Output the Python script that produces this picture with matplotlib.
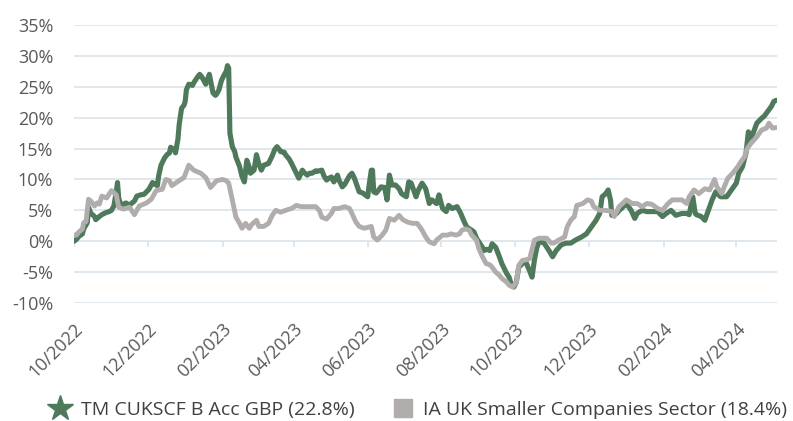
import numpy as np
import pandas as pd
import matplotlib
matplotlib.use("Agg")
import matplotlib.pyplot as plt
from matplotlib.lines import Line2D

plt.rcParams['font.family'] = ['Open Sans', 'DejaVu Sans']

start = pd.Timestamp("2022-10-01")

# cumulative performance (%); days counted from start
fund_days = [0, 2, 4, 7, 8, 11, 12, 14, 17, 18, 21, 23, 26, 29, 31, 33, 35, 36, 37, 39,
             41, 43, 46, 48, 50, 52, 55, 58, 60, 62, 65, 67, 69, 70, 72, 75, 77, 79, 80, 83,
             84, 86, 87, 89, 91, 92, 93, 95, 98, 99, 102, 104, 106, 108, 109, 111, 112, 114, 115, 117,
             118, 120, 122, 124, 126, 127, 128, 129, 131, 133, 134, 137, 139, 141, 143, 145, 146, 149, 151, 153,
             155, 157, 160, 161, 164, 166, 168, 170, 171, 174, 175, 178, 180, 182, 184, 186, 189, 190, 193, 195,
             197, 200, 201, 205, 207, 209, 211, 213, 215, 218, 219, 222, 224, 226, 228, 230, 232, 234, 236, 239,
             241, 243, 244, 246, 247, 248, 250, 253, 254, 257, 259, 261, 263, 266, 269, 271, 275, 277, 279, 283,
             285, 288, 291, 294, 296, 300, 302, 305, 308, 310, 313, 317, 320, 323, 325, 329, 331, 333, 335, 338,
             339, 342, 344, 346, 349, 352, 354, 358, 360, 362, 364, 366, 368, 371, 374, 377, 379, 381, 383, 385,
             389, 393, 396, 399, 403, 407, 411, 415, 420, 424, 428, 432, 435, 437, 440, 442, 444, 445, 449, 451,
             453, 457, 461, 464, 466, 470, 474, 479, 483, 487, 490, 494, 498, 503, 507, 509, 512, 514, 515, 519,
             522, 524, 528, 531, 535, 540, 544, 548, 550, 553, 556, 558, 560, 562, 565, 569, 571, 574, 577, 579,
             581]
fund_vals = [0.0, 0.3, 0.8, 1.2, 2.0, 3.0, 5.5, 4.5, 4.0, 3.5, 4.0, 4.3, 4.6, 4.8, 5.0, 5.7, 8.0, 9.5, 7.0, 5.7,
             6.0, 6.2, 5.8, 6.2, 6.5, 7.3, 7.5, 7.6, 8.0, 8.4, 9.5, 9.2, 9.0, 10.5, 12.3, 13.5, 14.0, 14.3, 15.2, 14.8,
             14.3, 16.5, 18.8, 21.5, 22.0, 22.6, 24.5, 25.4, 25.2, 25.6, 26.5, 27.0, 26.5, 25.8, 25.4, 26.5, 27.0, 25.0, 24.0, 23.6,
             23.8, 24.5, 26.0, 26.8, 27.5, 28.4, 28.0, 17.5, 15.3, 14.5, 13.6, 12.1, 10.5, 9.6, 13.1, 12.0, 11.0, 11.5, 14.0, 12.5,
             11.5, 12.3, 12.5, 12.6, 13.8, 14.8, 15.3, 14.8, 14.5, 14.4, 14.0, 13.3, 12.6, 11.8, 11.0, 10.2, 11.5, 11.2, 10.7, 11.0,
             11.0, 11.4, 11.3, 11.5, 10.5, 9.9, 10.2, 10.4, 9.6, 10.7, 10.0, 8.8, 9.2, 9.9, 10.6, 11.0, 10.2, 9.1, 8.0, 7.8,
             7.5, 7.2, 8.8, 11.5, 11.5, 8.0, 7.8, 8.5, 8.8, 8.7, 6.7, 10.7, 9.1, 9.1, 8.5, 7.7, 7.2, 9.6, 9.4, 7.2,
             8.3, 9.4, 8.5, 6.1, 6.7, 6.1, 7.5, 5.3, 4.8, 5.8, 5.3, 5.6, 4.5, 3.1, 2.3, 1.8, 1.5, 0.5, -0.1, -1.0,
             -1.5, -1.3, -1.5, -0.4, -1.0, -2.5, -3.6, -5.2, -5.8, -7.1, -7.4, -6.6, -4.2, -3.6, -3.4, -4.8, -5.8, -3.0, -1.0, 0.0,
             -0.3, -1.5, -2.5, -1.5, -0.6, -0.3, -0.3, 0.2, 0.7, 1.2, 2.3, 3.4, 4.5, 7.2, 7.7, 8.3, 6.6, 4.2, 4.5, 5.0,
             5.3, 6.1, 5.0, 3.7, 4.5, 5.0, 4.8, 4.8, 4.8, 4.0, 4.5, 5.0, 4.2, 4.5, 4.5, 4.3, 7.2, 4.5, 4.3, 4.0,
             3.4, 4.5, 6.7, 8.0, 7.2, 7.2, 8.3, 9.4, 11.0, 12.0, 14.2, 17.7, 16.7, 17.5, 19.1, 19.9, 20.2, 21.0, 21.8, 22.6,
             22.8]

sector_days = [0, 2, 4, 7, 8, 10, 11, 12, 14, 17, 19, 21, 23, 27, 31, 35, 37, 41, 46, 50,
               54, 60, 64, 68, 73, 76, 79, 81, 87, 91, 95, 99, 105, 109, 113, 118, 123, 126, 128, 131,
               134, 137, 139, 142, 145, 147, 151, 153, 157, 161, 164, 167, 171, 175, 180, 184, 188, 192, 196, 200,
               203, 205, 209, 213, 215, 219, 224, 228, 230, 233, 236, 240, 246, 248, 251, 255, 258, 261, 265, 269,
               272, 276, 280, 284, 288, 291, 294, 298, 300, 305, 309, 312, 316, 319, 321, 324, 327, 329, 333, 335,
               338, 341, 344, 346, 349, 352, 354, 358, 360, 363, 366, 368, 371, 374, 377, 381, 385, 391, 395, 397,
               401, 406, 408, 411, 414, 416, 421, 425, 428, 430, 435, 440, 445, 447, 451, 457, 462, 466, 470, 474,
               478, 483, 487, 491, 495, 499, 503, 507, 509, 513, 517, 522, 526, 530, 532, 536, 538, 541, 545, 549,
               552, 555, 557, 560, 565, 569, 573, 575, 578, 581]
sector_vals = [1.0, 1.0, 1.5, 2.0, 3.0, 3.2, 5.0, 6.8, 6.5, 5.7, 6.2, 6.0, 7.3, 7.0, 8.2, 7.5, 5.5, 5.2, 5.5, 4.3,
               5.7, 6.2, 6.8, 8.2, 8.4, 10.0, 9.8, 9.0, 9.8, 10.3, 12.3, 11.5, 11.0, 10.3, 8.7, 9.8, 10.0, 9.8, 9.4, 6.7,
               3.9, 2.9, 2.1, 2.9, 2.1, 2.7, 3.4, 2.4, 2.4, 2.9, 4.2, 5.0, 4.7, 5.0, 5.3, 5.8, 5.6, 5.6, 5.6, 5.6,
               5.0, 3.9, 3.6, 4.5, 5.3, 5.3, 5.6, 5.3, 4.5, 3.2, 2.4, 2.1, 2.4, 0.7, 0.2, 1.0, 1.8, 3.7, 3.4, 4.2,
               3.5, 3.1, 2.9, 2.9, 1.8, 0.7, -0.1, -0.4, 0.2, 1.0, 1.0, 1.2, 1.0, 1.2, 1.8, 2.0, 1.8, 1.0, 0.2, -1.2,
               -2.5, -3.6, -3.8, -4.2, -5.0, -5.5, -6.0, -6.6, -7.1, -7.4, -6.6, -3.9, -3.1, -3.0, -2.8, 0.2, 0.5, 0.5, -0.3, -0.3,
               0.2, 0.7, 2.3, 3.4, 4.0, 5.8, 6.1, 6.7, 6.5, 5.6, 5.0, 5.0, 4.8, 4.0, 5.6, 6.7, 6.1, 6.1, 5.6, 6.1,
               6.0, 5.3, 5.0, 6.0, 6.7, 6.7, 6.7, 6.1, 7.2, 8.3, 7.7, 8.5, 8.3, 10.0, 8.8, 7.7, 8.8, 10.2, 11.0, 12.0,
               12.9, 13.7, 15.0, 15.8, 16.9, 18.0, 18.3, 19.1, 18.3, 18.4]

fund_label = "TM CUKSCF B Acc GBP (22.8%)"
sector_label = "IA UK Smaller Companies Sector (18.4%)"
y_ticks = [-10, -5, 0, 5, 10, 15, 20, 25, 30, 35]
x_ticks = pd.date_range("2022-10-01", "2024-04-01", freq="2MS")

green = "#4e7a5b"
grey = "#b2adad"
grid_col = "#dde5ec"
text_col = "#595959"

fund_dates = start + pd.to_timedelta(fund_days, unit="D")
sector_dates = start + pd.to_timedelta(sector_days, unit="D")

fig = plt.figure(figsize=(7.93, 4.21), dpi=100)
ax = fig.add_axes([0.0933, 0.280, 0.887, 0.661])

for y in y_ticks:
    ax.axhline(y, color=grid_col, lw=1.3, zorder=0)
ax.vlines(x_ticks, -1.0, 0, color=grid_col, lw=1.3, zorder=0)

ax.plot(fund_dates, fund_vals, color=green, lw=3.7, solid_joinstyle="round",
        solid_capstyle="round", zorder=2)
ax.plot(sector_dates, sector_vals, color=grey, lw=3.5, solid_joinstyle="round",
        solid_capstyle="round", zorder=3)

ax.set_xlim(start, start + pd.Timedelta(days=582))
ax.set_ylim(-10, 35)
ax.set_yticks(y_ticks)
ax.set_yticklabels([f"{v}%" for v in y_ticks])
ax.set_xticks(x_ticks)
ax.set_xticklabels([d.strftime("%m/%Y") for d in x_ticks], rotation=45, ha="right",
                   rotation_mode="anchor")
ax.tick_params(axis="both", length=0, labelsize=13, colors=text_col)
ax.tick_params(axis="x", pad=12)
ax.tick_params(axis="y", pad=15)
for s in ax.spines.values():
    s.set_visible(False)

handles = [Line2D([], [], color=green, marker="*", markersize=19, linestyle="none"),
           Line2D([], [], color=grey, marker="s", markersize=13, linestyle="none")]
fig.legend(handles, [fund_label, sector_label], loc="center", ncol=2,
           bbox_to_anchor=(0.527, 0.026), frameon=False, fontsize=14,
           labelcolor="#404040", handletextpad=0.45, columnspacing=1.9,
           handlelength=1.2)

fig.savefig("out.png", dpi=100)
